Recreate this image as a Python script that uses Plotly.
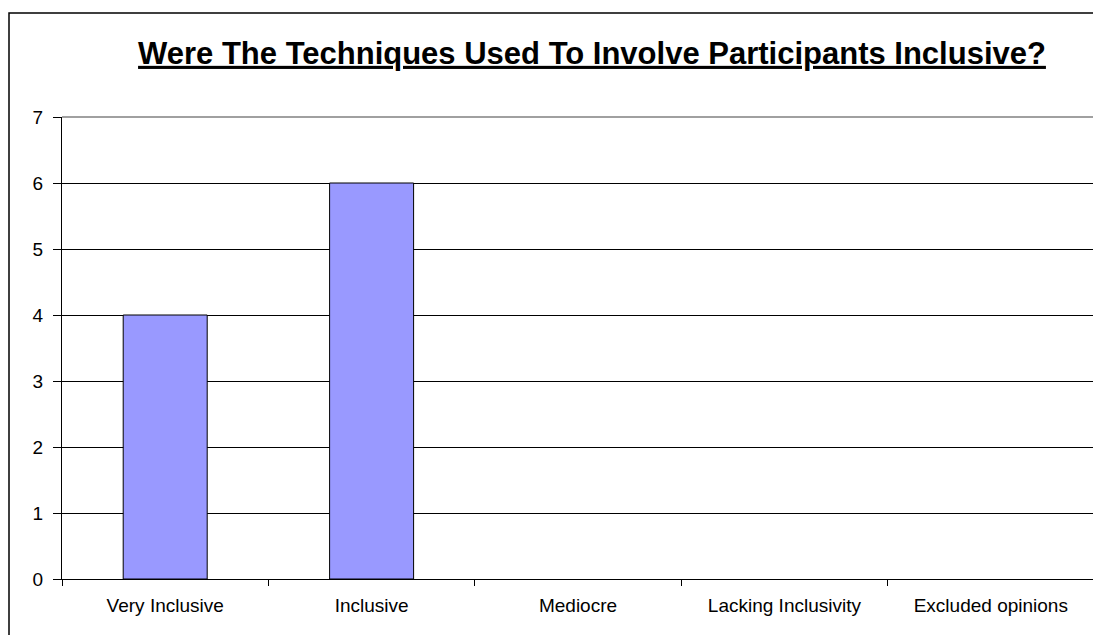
import plotly.graph_objects as go

categories = ["Very Inclusive", "Inclusive", "Mediocre", "Lacking Inclusivity", "Excluded opinions"]
values = [4, 6, 0, 0, 0]
y_ticks = [0, 1, 2, 3, 4, 5, 6, 7]
title_text = "Were The Techniques Used To Involve Participants Inclusive?"

FONT = "Liberation Sans, Arial, sans-serif"

# page body has an 8px margin, so the figure is sized to fill the remaining window
W, H = 1093, 627

fig = go.Figure()
fig.add_trace(go.Bar(
    x=categories, y=values,
    marker=dict(color="#9999FF",
                line=dict(color="black", width=[1 if v > 0 else 0 for v in values])),
    hoverinfo="x+y",
))

fig.update_layout(
    width=W, height=H,
    margin=dict(l=54, r=7, t=109, b=56, autoexpand=False),
    paper_bgcolor="white", plot_bgcolor="white",
    bargap=0.593,
    showlegend=False,
    font=dict(family=FONT, size=19, color="black"),
    title=dict(
        text="<b><u>" + title_text + "</u></b>",
        x=584 / W, xanchor="center", xref="container",
        y=1 - 45 / H, yanchor="middle", yref="container",
        font=dict(family=FONT, size=31, color="black"),
    ),
    xaxis=dict(
        type="category",
        showline=True, linecolor="black", linewidth=1,
        ticks="outside", ticklen=6, tickcolor="black", tickwidth=1,
        tickson="boundaries",
        showgrid=False,
        ticklabelstandoff=9,
        tickfont=dict(family=FONT, size=19, color="black"),
    ),
    yaxis=dict(
        range=[0, 7],
        tickvals=y_ticks,
        showline=True, linecolor="black", linewidth=1,
        ticks="outside", ticklen=8, tickcolor="black", tickwidth=1,
        showgrid=True, gridcolor="black", gridwidth=1,
        zeroline=False,
        ticklabelstandoff=6,
        tickfont=dict(family=FONT, size=19, color="black"),
    ),
)

pw, ph = W - 54 - 7, H - 109 - 56

# plot-area border (top and right) in grey
fig.add_shape(type="line", xref="paper", yref="paper", x0=0, x1=1, y0=1, y1=1,
              line=dict(color="#808080", width=1.5), layer="above")
fig.add_shape(type="line", xref="paper", yref="paper", x0=1, x1=1, y0=0, y1=1,
              line=dict(color="#A0A0A0", width=1.5), layer="above")

# outer chart frame (extends beyond the right and bottom edges)
fig.add_shape(type="rect", xref="paper", yref="paper",
              x0=(1 - 54) / pw, x1=(W + 20 - 54) / pw,
              y0=(H - 109 - (H + 20)) / ph, y1=(H - 56 - 5) / ph,
              line=dict(color="black", width=1.5), fillcolor="rgba(0,0,0,0)", layer="above")

fig.write_html("out.html")
